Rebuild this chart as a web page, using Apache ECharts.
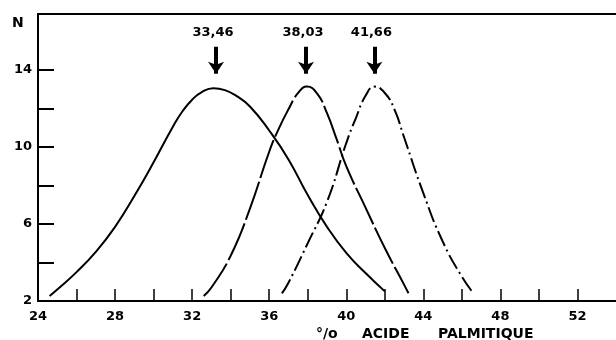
<!DOCTYPE html>
<html>
<head>
<meta charset="utf-8">
<script src="https://cdn.jsdelivr.net/npm/echarts@6/dist/echarts.min.js"></script>
<style>
html,body{margin:0;padding:0;background:#fff;}
#chart{width:616px;height:340px;}
</style>
</head>
<body>
<div id="chart"></div>
<script>
// ---- data ----
const xTickValues = [26, 28, 30, 32, 34, 36, 38, 40, 42, 44, 46, 48, 50, 52];
const xLabelValues = [24, 28, 32, 36, 40, 44, 48, 52];
const yTickValues = [4, 6, 8, 10, 12, 14];
const yLabelValues = [2, 6, 10, 14];

// solid curve
const curve1 = [[24.6,2.26],[25,2.6],[26,3.5],[27,4.55],[28,5.85],[29,7.45],[30,9.2],[31,11.05],[31.5,11.85],[32,12.45],[32.5,12.85],[33.1,13.05],[33.7,12.95],[34.3,12.65],[35,12.1],[36,10.85],[37,9.35],[38,7.5],[39,5.85],[40,4.5],[41,3.45],[42,2.5]];
// dashed curve
const curve2 = [[32.6,2.26],[33,2.7],[34,4.35],[35,6.8],[36,9.75],[36.5,10.95],[37,11.95],[37.5,12.8],[37.96,13.13],[38.5,12.75],[39,11.75],[39.5,10.4],[40,9.0],[41,6.85],[42,4.75],[43,2.85],[43.23,2.4]];
// dash-dot curve
const curve3 = [[36.66,2.4],[37,2.95],[38,5.0],[39,7.15],[40,10.2],[40.5,11.5],[41,12.65],[41.46,13.13],[42,12.8],[42.5,11.95],[43,10.5],[44,7.6],[45,5.1],[46,3.26],[46.6,2.4]];

const peakLabels = ['33,46', '38,03', '41,66'];
const peakX = [33.24, 37.91, 41.46];

const yName = 'N';
const xTitleParts = ['°/o', 'ACIDE', 'PALMITIQUE'];

// ---- chart ----
const FONT = 'DejaVu Sans';
const chart = echarts.init(document.getElementById('chart'), null, {renderer: 'canvas'});

function arrowMark(i) {
  return {
    markLine: {
      silent: true,
      animation: false,
      symbol: ['none', 'arrow'],
      symbolSize: 12,
      label: {show: false},
      lineStyle: {type: 'solid', width: 4, color: '#000'},
      data: [[{coord: [peakX[i], 15.2]}, {coord: [peakX[i], 13.8]}]]
    },
    markPoint: {
      silent: true,
      animation: false,
      symbolSize: 0,
      label: {
        show: true, position: 'inside', formatter: peakLabels[i],
        color: '#000', fontFamily: FONT, fontSize: 13, fontWeight: 'bold', offset: [-3, 0]
      },
      data: [{coord: [peakX[i], 15.92]}]
    }
  };
}

const series = [
  Object.assign({
    type: 'line', data: curve1, smooth: 0.5, showSymbol: false, symbol: 'none',
    lineStyle: {color: '#000', width: 2, type: 'solid'}
  }, arrowMark(0)),
  Object.assign({
    type: 'line', data: curve2, smooth: 0.5, showSymbol: false, symbol: 'none',
    lineStyle: {color: '#000', width: 2, type: [40, 4]}
  }, arrowMark(1)),
  Object.assign({
    type: 'line', data: curve3, smooth: 0.5, showSymbol: false, symbol: 'none',
    lineStyle: {color: '#000', width: 2, type: [16, 4, 2, 4]}
  }, arrowMark(2))
];

const labelStyle = {color: '#000', fontFamily: FONT, fontSize: 13, fontWeight: 'bold'};
const titleStyle = {fontFamily: FONT, fontSize: 14, fontWeight: 'bold', fill: '#000'};

chart.setOption({
  animation: false,
  backgroundColor: '#fff',
  grid: {left: 38, top: 14, width: 579, height: 287, containLabel: false},
  xAxis: [{
    type: 'value', min: 24, max: 54, interval: 2,
    axisLine: {show: true, lineStyle: {color: '#000', width: 2}},
    axisTick: {show: true, inside: true, length: 12, customValues: xTickValues, lineStyle: {color: '#000', width: 1.5}},
    axisLabel: Object.assign({show: true, customValues: xLabelValues, margin: 9}, labelStyle),
    splitLine: {show: false}
  }, {
    type: 'value', position: 'top', min: 24, max: 54,
    axisLine: {show: true, onZero: false, lineStyle: {color: '#000', width: 2}},
    axisTick: {show: false}, axisLabel: {show: false}, splitLine: {show: false}
  }],
  yAxis: {
    type: 'value', min: 2, max: 16.9, interval: 2,
    axisLine: {show: true, lineStyle: {color: '#000', width: 2}},
    axisTick: {show: true, inside: true, length: 16, customValues: yTickValues, lineStyle: {color: '#000', width: 2}},
    axisLabel: Object.assign({show: true, customValues: yLabelValues, margin: 6}, labelStyle),
    splitLine: {show: false}
  },
  graphic: [
    {type: 'text', left: 12, top: 16, style: Object.assign({text: yName}, titleStyle)},
    {type: 'text', left: 316, top: 327, style: Object.assign({text: xTitleParts[0]}, titleStyle)},
    {type: 'text', left: 362, top: 327, style: Object.assign({text: xTitleParts[1]}, titleStyle)},
    {type: 'text', left: 438, top: 327, style: Object.assign({text: xTitleParts[2]}, titleStyle)}
  ],
  series: series
});
</script>
</body>
</html>
